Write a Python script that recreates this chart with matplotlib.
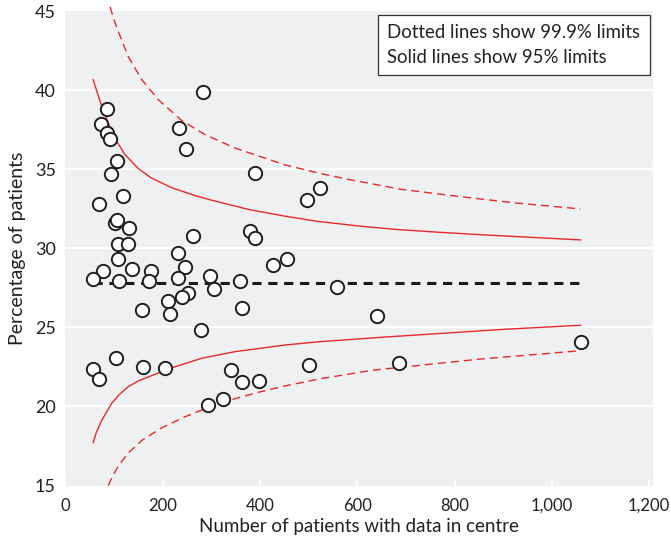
import matplotlib
matplotlib.use("Agg")
import matplotlib.pyplot as plt
from matplotlib.ticker import FixedLocator

plt.rcParams['font.family'] = ['Lato', 'DejaVu Sans']

# centres: number of patients and percentage
n_pat = [85, 74, 85, 92, 107, 94, 119, 70, 101, 107, 130, 108, 129, 109,
         263, 231, 245, 77, 136, 175, 56, 111, 171, 231, 297, 282, 234, 248,
         390, 496, 523, 379, 390, 427, 456, 358, 306, 558, 251, 240, 210, 216,
         362, 640, 157, 278, 57, 69, 104, 160, 205, 340, 362, 398, 293, 323,
         500, 686, 1060]
pct = [38.82, 37.85, 37.30, 36.94, 35.53, 34.72, 33.33, 32.84, 31.64, 31.77,
       31.30, 30.29, 30.25, 29.34, 30.80, 29.74, 28.85, 28.56, 28.69, 28.56,
       28.06, 27.97, 27.93, 28.14, 28.26, 39.90, 37.59, 36.29, 34.77, 33.08,
       33.84, 31.13, 30.67, 28.96, 29.36, 27.93, 27.46, 27.59, 27.21, 26.92,
       26.68, 25.84, 26.22, 25.73, 26.11, 24.83, 22.39, 21.74, 23.07, 22.48,
       22.44, 22.33, 21.55, 21.61, 20.11, 20.46, 22.61, 22.76, 24.08]

# overall mean
mean_n = [56, 1060]
mean_pct = [27.8, 27.8]

# 99.9% limits (dotted)
up999_n = [92, 100, 109, 129, 157, 191, 239, 287, 349, 451, 523, 585, 688, 811, 928, 1059]
up999 = [45.28, 44.45, 43.7, 42.15, 40.68, 39.41, 38.1, 37.2, 36.35, 35.29,
         34.75, 34.35, 33.75, 33.28, 32.87, 32.5]
lo999_n = [88, 98, 109, 129, 157, 198, 246, 294, 349, 397, 451, 523, 633, 852, 1059]
lo999 = [15.0, 15.65, 16.25, 17.05, 17.85, 18.65, 19.35, 19.95, 20.5, 20.9,
         21.3, 21.75, 22.3, 23.0, 23.53]

# 95% limits (solid)
up95_n = [57, 65, 75, 88, 102, 122, 150, 177, 218, 266, 301, 379, 450, 517,
          600, 681, 770, 859, 960, 1059]
up95 = [40.68, 39.9, 38.95, 37.94, 36.95, 35.95, 35.05, 34.45, 33.85, 33.35,
        33.05, 32.45, 32.05, 31.72, 31.43, 31.2, 31.02, 30.86, 30.7, 30.54]
lo95_n = [57, 64, 75, 95, 110, 129, 150, 177, 219, 280, 349, 451, 523, 650,
          770, 900, 1059]
lo95 = [17.71, 18.4, 19.14, 20.2, 20.73, 21.25, 21.62, 21.95, 22.45, 23.05,
        23.47, 23.89, 24.1, 24.38, 24.62, 24.88, 25.14]

xticks = [0, 200, 400, 600, 800, 1000, 1200]
xtick_labels = ['0', '200', '400', '600', '800', '1,000', '1,200']
yticks = [15, 20, 25, 30, 35, 40, 45]

red = '#e8282b'
ink = '#222222'
fs = 13.5

fig = plt.figure(figsize=(6.71, 5.47), dpi=100)
fig.subplots_adjust(left=0.0975, right=0.9732, bottom=0.1124, top=0.9792)
ax = fig.add_subplot(111)
ax.set_facecolor('#eff0f2')
for s in ax.spines.values():
    s.set_visible(False)

for yv in yticks[1:-1]:
    ax.axhline(yv, color='white', lw=1.6, zorder=1)

ax.plot(up95_n, up95, color=red, lw=1.0, zorder=2, clip_on=False)
ax.plot(lo95_n, lo95, color=red, lw=1.0, zorder=2, clip_on=False)
ax.plot(up999_n, up999, color=red, lw=1.0, dashes=(5.8, 3.6), zorder=2, clip_on=False)
ax.plot(lo999_n, lo999, color=red, lw=1.0, dashes=(5.8, 3.6), zorder=2, clip_on=False)
ax.plot(mean_n, mean_pct, color='#1a1a1a', lw=2.2, dashes=(3.0, 2.2), zorder=3)

ax.scatter(n_pat, pct, s=92, facecolor='white', edgecolor='#1f1f1f',
           linewidths=1.4, zorder=4, clip_on=False)

ax.set_xlim(0, 1208)
ax.set_ylim(15, 45)
ax.xaxis.set_major_locator(FixedLocator(xticks))
ax.set_xticklabels(xtick_labels)
ax.yaxis.set_major_locator(FixedLocator(yticks))
ax.tick_params(axis='x', direction='in', length=5, width=1.5, color='white',
               labelsize=12, pad=9, labelcolor=ink)
ax.tick_params(axis='y', length=0, labelsize=13, pad=7, labelcolor=ink)

ax.set_xlabel('Number of patients with data in centre', fontsize=fs,
              color=ink, labelpad=3)
ax.set_ylabel('Percentage of patients', fontsize=fs + 0.5, color=ink, labelpad=6)

ax.text(0.548, 0.973, 'Dotted lines show 99.9% limits\nSolid lines show 95% limits',
        transform=ax.transAxes, ha='left', va='top', fontsize=13.4, color=ink,
        linespacing=1.55, zorder=5,
        bbox=dict(boxstyle='square,pad=0.5', fc='white', ec='#333333', lw=0.9))

fig.savefig('out.png', dpi=100)
